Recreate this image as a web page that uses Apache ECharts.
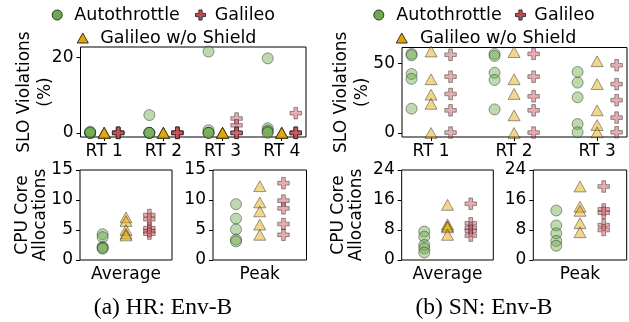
<!DOCTYPE html>
<html>
<head>
<meta charset="utf-8">
<script src="https://cdn.jsdelivr.net/npm/echarts@6/dist/echarts.min.js"></script>
<style>
  html, body { margin: 0; padding: 0; background: #fff; }
  #chart { width: 629px; height: 322px; }
</style>
</head>
<body>
<div id="chart"></div>
<script>
// request types
const hrTypes = ['RT 1', 'RT 2', 'RT 3', 'RT 4'];
const snTypes = ['RT 1', 'RT 2', 'RT 3'];

// SLO violations (%), 5 runs per request type
const hrSloAuto = [[0, 0, 0, 0, 0.3], [4.7, 0, 0, 0, 0], [21.5, 0.7, 0, 0, 0], [19.7, 1.2, 0.6, 0.3, 0]];
const hrSloNoShield = [[0, 0, 0, 0, 0], [0, 0, 0, 0, 0], [0, 0, 0, 0, 0], [0, 0, 0, 0, 0]];
const hrSloGalileo = [[0, 0, 0, 0, 0], [0, 0, 0, 0, 0], [3.8, 2.0, 0, 0, 0], [5.2, 0, 0, 0, 0]];

const snSloAuto = [[57, 56, 42.5, 39, 17.5], [57, 55.5, 43.4, 38.2, 17], [44, 36.3, 25.7, 6.4, 0.5]];
const snSloNoShield = [[58.7, 38.7, 27.6, 21, 0], [58.3, 38.7, 28.1, 12.7, 0], [51.7, 35.2, 16.3, 5.7, 0.5]];
const snSloGalileo = [[56.4, 40.6, 28.1, 16.3, 0.3], [57, 40.6, 26.4, 16.3, 0.3], [48.8, 35.2, 23.6, 11.1, 0.5]];

// CPU core allocations
const hrAvgAuto = [4.3, 3.8, 2.2, 2.0, 1.9];
const hrAvgNoShield = [7.1, 6.5, 5.0, 4.4, 4.1];
const hrAvgGalileo = [7.5, 6.8, 5.3, 4.8, 4.4];
const hrPeakAuto = [9.3, 6.9, 5.1, 3.4, 3.1];
const hrPeakNoShield = [12.3, 9.6, 8.1, 5.9, 4.2];
const hrPeakGalileo = [12.8, 9.9, 8.6, 6.0, 4.2];

const snAvgAuto = [7.6, 6.2, 4.0, 3.1, 2.0];
const snAvgNoShield = [14.7, 9.5, 9.0, 8.7, 6.7];
const snAvgGalileo = [15.0, 9.8, 8.6, 7.8, 6.5];
const snPeakAuto = [13.2, 9.2, 7.1, 5.1, 3.8];
const snPeakNoShield = [19.6, 14.2, 13.1, 9.8, 7.4];
const snPeakGalileo = [19.6, 13.5, 12.6, 9.3, 8.0];

const hrSloTicks = [0, 20];
const snSloTicks = [0, 50];
const hrCpuTicks = [0, 5, 10, 15];
const snCpuTicks = [0, 8, 16, 24];

const FONT = 'DejaVu Sans';
const plusPath = 'path://M3.4,0 H6.6 V3.4 H10 V6.6 H6.6 V10 H3.4 V6.6 H0 V3.4 H3.4 Z';
const triPath = 'path://M5,0 L10,9 L0,9 Z';

const methods = [
  { name: 'Autothrottle', symbol: 'circle', size: 11, color: '#6cab4c' },
  { name: 'Galileo w/o Shield', symbol: triPath, size: 12, color: '#e3a300' },
  { name: 'Galileo', symbol: plusPath, size: 11.5, color: '#c8464e' }
];

function pts(groups, offset) {
  const out = [];
  groups.forEach((vals, i) => vals.forEach(v => out.push([i + offset, v])));
  return out;
}

const grids = [
  { left: 80.5, top: 47, width: 225.5, height: 90 },
  { left: 402, top: 47.5, width: 225, height: 89.5 },
  { left: 80, top: 170, width: 92, height: 90 },
  { left: 213, top: 170, width: 93.5, height: 90 },
  { left: 401.7, top: 170, width: 91.6, height: 90 },
  { left: 533.3, top: 170, width: 93.4, height: 90 }
].map(g => Object.assign({ show: true, borderColor: '#000', borderWidth: 1, containLabel: false }, g));

function xAx(i, min, max, labels, showTicks) {
  const vals = labels.map((_, k) => k);
  return {
    gridIndex: i, type: 'value', min: min, max: max,
    splitLine: { show: false },
    axisLine: { show: false, onZero: false },
    axisTick: { show: showTicks, customValues: vals, length: 4, lineStyle: { color: '#000' } },
    axisLabel: { customValues: vals, formatter: v => labels[Math.round(v)], fontSize: 17, fontFamily: FONT, color: '#000', margin: 6 }
  };
}
function yAx(i, min, max, ticks, name, gap, lh) {
  return {
    gridIndex: i, type: 'value', min: min, max: max,
    splitLine: { show: false },
    axisLine: { show: false, onZero: false },
    axisTick: { show: true, customValues: ticks, length: 4, lineStyle: { color: '#000' } },
    axisLabel: { customValues: ticks, fontSize: 17, fontFamily: FONT, color: '#000', margin: 7 },
    name: name, nameLocation: 'middle', nameRotate: 90, nameGap: gap, nameMoveOverlap: false,
    nameTextStyle: { fontSize: 17, fontFamily: FONT, color: '#000', lineHeight: lh }
  };
}

const xAxes = [
  xAx(0, -0.4, 3.41, hrTypes, true),
  xAx(1, -0.35, 2.36, snTypes, true),
  xAx(2, -1.97, 1.97, ['Average'], false),
  xAx(3, -1.97, 1.97, ['Peak'], false),
  xAx(4, -1.97, 1.97, ['Average'], false),
  xAx(5, -1.97, 1.97, ['Peak'], false)
];

const yAxes = [
  yAx(0, -1.1, 22.7, hrSloTicks, 'SLO Violations\n(%)', 24, 21),
  yAx(1, -2.9, 61.6, snSloTicks, 'SLO Violations\n(%)', 28.5, 21),
  yAx(2, 0, 15, hrCpuTicks, 'CPU Core\nAllocations', 30, 18),
  yAx(3, 0, 15, hrCpuTicks, '', 30, 18),
  yAx(4, 0, 24, snCpuTicks, 'CPU Core\nAllocations', 36.5, 18),
  yAx(5, 0, 24, snCpuTicks, '', 30, 18)
];

const panelData = [
  { groups: [hrSloAuto, hrSloNoShield, hrSloGalileo], off: 0.237 },
  { groups: [snSloAuto, snSloNoShield, snSloGalileo], off: 0.235 },
  { groups: [[hrAvgAuto], [hrAvgNoShield], [hrAvgGalileo]], off: 1 },
  { groups: [[hrPeakAuto], [hrPeakNoShield], [hrPeakGalileo]], off: 1 },
  { groups: [[snAvgAuto], [snAvgNoShield], [snAvgGalileo]], off: 1 },
  { groups: [[snPeakAuto], [snPeakNoShield], [snPeakGalileo]], off: 1 }
];

const series = [];
panelData.forEach((p, gi) => {
  methods.forEach((m, mi) => {
    series.push({
      name: m.name, type: 'scatter', xAxisIndex: gi, yAxisIndex: gi,
      symbol: m.symbol, symbolSize: m.size, symbolKeepAspect: true,
      data: pts(p.groups[mi], (mi - 1) * p.off),
      itemStyle: { color: m.color, borderColor: '#222', borderWidth: 1, opacity: 0.45 },
      emphasis: { disabled: true },
      silent: true
    });
  });
});

// one legend per entry so each can sit where the original puts it;
// icon sits at the left of a box of width w, text starts right after it
function legend(left, top, name, w) {
  return {
    left: left, top: top, data: [name], itemWidth: w, itemHeight: 10, padding: 0,
    selectedMode: false, symbolKeepAspect: true,
    itemStyle: { opacity: 1, borderColor: '#333', borderWidth: 1 },
    textStyle: { fontSize: 17.5, fontFamily: FONT, color: '#000' }
  };
}

const chart = echarts.init(document.getElementById('chart'), null, { renderer: 'canvas' });
chart.setOption({
  animation: false,
  backgroundColor: '#fff',
  grid: grids,
  xAxis: xAxes,
  yAxis: yAxes,
  legend: [
    legend(51.7, 6, 'Autothrottle', 24.3),
    legend(195, 6, 'Galileo', 18.3),
    legend(76.7, 29, 'Galileo w/o Shield', 25),
    legend(373.3, 6, 'Autothrottle', 25),
    legend(515, 6, 'Galileo', 17.7),
    legend(395.7, 29, 'Galileo w/o Shield', 26.6)
  ],
  graphic: [
    { type: 'text', x: 163, y: 308, style: { text: '(a) HR: Env-B', font: '23.5px "Liberation Serif"', fill: '#000', textAlign: 'center', textVerticalAlign: 'middle' } },
    { type: 'text', x: 484, y: 308, style: { text: '(b) SN: Env-B', font: '23.5px "Liberation Serif"', fill: '#000', textAlign: 'center', textVerticalAlign: 'middle' } }
  ],
  series: series
});
</script>
</body>
</html>
